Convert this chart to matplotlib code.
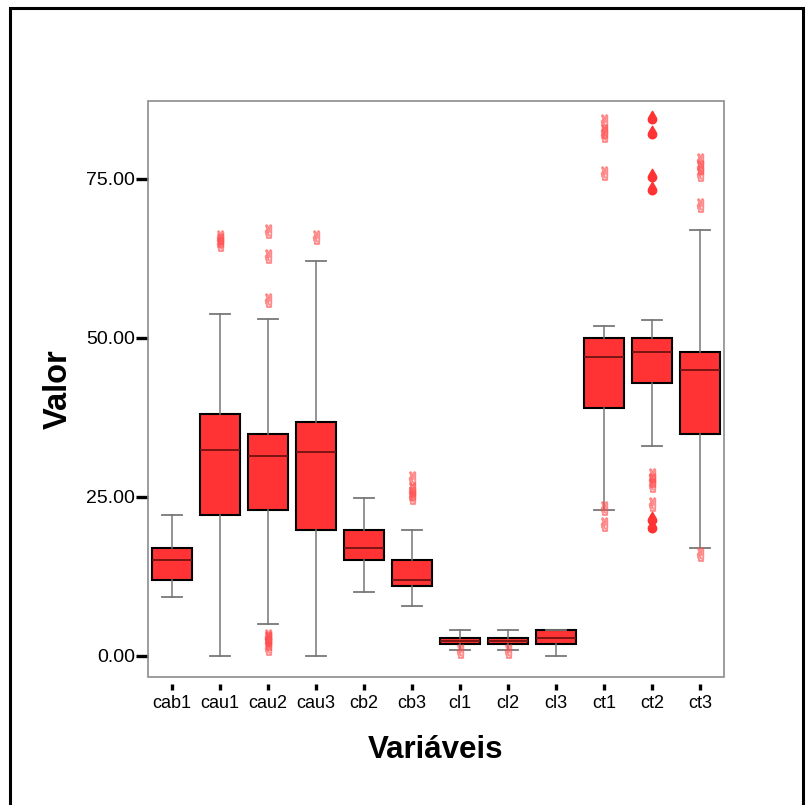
import numpy as np
import matplotlib.pyplot as plt
from matplotlib.path import Path
from matplotlib.patches import Rectangle

plt.rcParams['font.family'] = ['Liberation Sans', 'DejaVu Sans']

labels = ['cab1', 'cau1', 'cau2', 'cau3', 'cb2', 'cb3', 'cl1', 'cl2', 'cl3', 'ct1', 'ct2', 'ct3']
whislo = [9.2, 0.0, 5.1, 0.0, 10.1, 7.9, 1.0, 1.0, 0.0, 23.0, 33.0, 17.0]
q1 = [12.0, 22.1, 23.0, 19.8, 15.1, 11.0, 1.9, 1.9, 1.9, 39.0, 42.9, 34.95]
med = [15.1, 32.4, 31.5, 32.1, 17.0, 12.0, 2.4, 2.4, 2.9, 46.9, 47.8, 45.0]
q3 = [17.0, 38.1, 34.95, 36.8, 19.8, 15.1, 2.9, 2.9, 4.1, 50.0, 50.0, 47.75]
whishi = [22.1, 53.8, 52.9, 62.0, 24.9, 19.8, 4.1, 4.1, 4.1, 51.9, 52.8, 67.0]

# outliers (open symbols) and extremes (filled drops)
outliers = [
    [],
    [64.8, 65.3, 65.8],
    [66.7, 62.9, 56.0, 3.2, 2.9, 2.6, 2.0, 1.2],
    [65.8],
    [],
    [28.0, 26.2, 25.6, 25.0],
    [0.8],
    [0.8],
    [],
    [84.0, 82.5, 81.8, 75.9, 23.2, 20.8],
    [28.4, 27.6, 26.8, 23.9],
    [78.0, 76.8, 75.8, 70.8, 16.1],
]
extremes = [[], [], [], [], [], [], [], [], [], [],
            [84.7, 82.4, 75.6, 73.6, 21.7, 20.4], []]

# teardrop marker
ang = np.radians(np.linspace(30, -210, 40))
verts = [(0, 2.0)] + [(np.cos(a), np.sin(a)) for a in ang] + [(0, 2.0)]
verts = [(x, y - 0.5) for x, y in verts]
drop = Path(verts, closed=True)

fig = plt.figure(figsize=(8.11, 8.05), dpi=100)
ax = fig.add_axes([148 / 811, 1 - 677 / 805, 576 / 811, 576 / 805])

stats = []
for i, lab in enumerate(labels):
    stats.append(dict(label=lab, whislo=whislo[i], q1=q1[i], med=med[i],
                      q3=q3[i], whishi=whishi[i], fliers=[]))

pos = np.arange(1, len(labels) + 1)
ax.bxp(stats, positions=pos, widths=0.845, capwidths=0.43, patch_artist=True,
       showfliers=False,
       boxprops=dict(facecolor='#FF3333', edgecolor='black', linewidth=1.5),
       medianprops=dict(color='#7A1515', linewidth=1.4),
       whiskerprops=dict(color='#777777', linewidth=1.1),
       capprops=dict(color='#777777', linewidth=1.3))

for p, vals in zip(pos, outliers):
    if vals:
        ax.plot([p] * len(vals), vals, ls='none', marker='$\u270c$', ms=9.5,
                color='#FF5050', alpha=0.55, zorder=4)
for p, vals in zip(pos, extremes):
    if vals:
        ax.plot([p] * len(vals), vals, ls='none', marker=drop, ms=9,
                color='#FF3333', zorder=4)

ax.set_xlim(0.5, 12.5)
ax.set_ylim(-3.3, 87.2)
ax.set_yticks([0, 25, 50, 75])
ax.set_yticklabels(['0.00', '25.00', '50.00', '75.00'])
ax.set_xticks(pos)
ax.set_xticklabels(labels)

for s in ax.spines.values():
    s.set_visible(False)
ax.spines['bottom'].set_position(('outward', 5))
ax.add_patch(Rectangle((0, 0), 1, 1, transform=ax.transAxes, fill=False,
                       edgecolor='#8c8c8c', linewidth=1.2, clip_on=False, zorder=5))

ax.tick_params(axis='y', length=8.6, width=2.4, pad=0.5, labelsize=14, color='black')
ax.tick_params(axis='x', length=4.3, width=2.4, pad=3.5, labelsize=13, color='black')

ax.set_ylabel('Valor', fontsize=23.5, fontweight='bold')
ax.yaxis.set_label_coords(-0.128, 0.5)
ax.set_xlabel('Variáveis', fontsize=22.5, fontweight='bold')
ax.xaxis.set_label_coords(0.5, -0.1)

# outer border
fig.add_artist(Rectangle((9.5 / 811, -0.02), (803 - 9.5) / 811, 1.02 - 8 / 805,
                         transform=fig.transFigure, fill=False, edgecolor='black',
                         linewidth=2.2))

fig.savefig('out.png', dpi=100)
